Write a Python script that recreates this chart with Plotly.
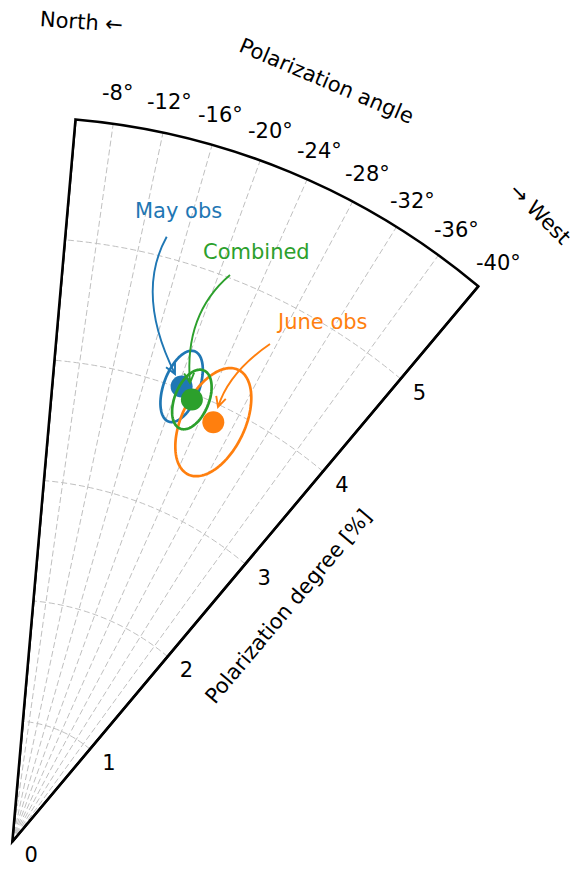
import numpy as np
import plotly.graph_objects as go

# ---------------- data ----------------
labels = ["May obs", "Combined", "June obs"]
colors = ["#1f77b4", "#2ca02c", "#ff7f0e"]
pol_degree = [4.02, 3.95, 3.85]          # %
pol_angle = [-20.4, -22.1, -25.6]        # deg
err_degree = [0.31, 0.26, 0.48]          # radial semi-axis of error ellipse (%)
err_angle = [2.1, 2.05, 3.9]             # tangential semi-axis of error ellipse (deg)

angle_ticks = [-8, -12, -16, -20, -24, -28, -32, -36, -40]
angle_ticktext = [f"{v}°" for v in angle_ticks]
degree_ticks = [0, 1, 2, 3, 4, 5]
theta_min, theta_max = -40, -5
r_max = 6

# window 578x871; the page body adds an 8px margin, so the figure is 570x863
OFF = 8
W, H = 578 - OFF, 871 - OFF
FONT = "DejaVu Sans"
FS = 21
GRID = "rgb(192,192,192)"

# sector geometry in window pixels
ox, oy = 12.3, 841.7          # origin
R_PX = 725.0                  # outer radius in px


def px2paper(x, y):
    return (x - OFF) / W, 1 - (y - OFF) / H


fig = go.Figure()

draw_order = [0, 2, 1]
for i in draw_order:
    # error ellipse (radial / tangential semi-axes) around the measurement
    t = np.linspace(0, 2 * np.pi, 181)
    phi = np.deg2rad(90 + pol_angle[i])
    u = np.array([np.cos(phi), np.sin(phi)])
    v = np.array([-np.sin(phi), np.cos(phi)])
    a = err_degree[i]
    b = pol_degree[i] * np.deg2rad(err_angle[i])
    cx, cy = pol_degree[i] * u
    ex = cx + a * np.cos(t) * u[0] + b * np.sin(t) * v[0]
    ey = cy + a * np.cos(t) * u[1] + b * np.sin(t) * v[1]
    er = np.hypot(ex, ey)
    eth = np.rad2deg(np.arctan2(ey, ex)) - 90
    fig.add_trace(go.Scatterpolar(r=er, theta=eth, mode="lines",
                                  line=dict(color=colors[i], width=2.7),
                                  showlegend=False, hoverinfo="skip"))
    fig.add_trace(go.Scatterpolar(r=[pol_degree[i]], theta=[pol_angle[i]], mode="markers",
                                  marker=dict(color=colors[i], size=22),
                                  name=labels[i], showlegend=False))

# left edge of the sector
fig.add_trace(go.Scatterpolar(r=[0, r_max], theta=[theta_max, theta_max], mode="lines",
                              line=dict(color="black", width=2.5), showlegend=False,
                              hoverinfo="skip"))

# ---------------- curved labelled arrows (pixel layout) ----------------
arrow_layout = [
    dict(text=(178, 211), s=(166.7, 236.7), c=(135, 294), e=(175, 374)),
    dict(text=(256, 252), s=(230, 275), c=(184, 314), e=(190, 383)),
    dict(text=(322, 322), s=(270, 344), c=(229, 372), e=(218, 407)),
]
shapes = []
annotations = []
for i, al in enumerate(arrow_layout):
    sx, sy = al["s"]
    qx, qy = al["c"]
    exx, eyy = al["e"]
    d = np.array([exx - qx, eyy - qy])
    d = d / np.linalg.norm(d)
    n = np.array([-d[1], d[0]])
    hl, hw = 10, 5
    h1 = np.array([exx, eyy]) - hl * d + hw * n
    h2 = np.array([exx, eyy]) - hl * d - hw * n
    pts = [px2paper(sx, sy), px2paper(qx, qy), px2paper(exx, eyy),
           px2paper(*h1), px2paper(*h2)]
    path = (f"M{pts[0][0]},{pts[0][1]} Q{pts[1][0]},{pts[1][1]} {pts[2][0]},{pts[2][1]} "
            f"M{pts[3][0]},{pts[3][1]} L{pts[2][0]},{pts[2][1]} L{pts[4][0]},{pts[4][1]}")
    shapes.append(dict(type="path", xref="paper", yref="paper", path=path,
                       line=dict(color=colors[i], width=1.9)))
    tx, ty = px2paper(*al["text"])
    annotations.append(dict(x=tx, y=ty, xref="paper", yref="paper", text=labels[i],
                            showarrow=False, font=dict(family=FONT, size=FS, color=colors[i]),
                            xanchor="center", yanchor="middle"))

# angular tick labels, centred just outside the outer arc
for val, txt in zip(angle_ticks, angle_ticktext):
    rad = np.deg2rad(val)
    dist = R_PX + 31
    lx = ox - np.sin(rad) * dist
    ly = oy - np.cos(rad) * dist
    tx, ty = px2paper(lx, ly)
    annotations.append(dict(x=tx, y=ty, xref="paper", yref="paper", text=txt,
                            showarrow=False, font=dict(family=FONT, size=FS, color="black"),
                            xanchor="center", yanchor="middle"))

# axis / direction titles
for txt, pos, ang in [
    ("Polarization angle", (326, 81), 23),
    ("Polarization degree [%]", (288, 607), -50),
    ("North ←", (81, 22), 4),
    ("→ West", (540, 214), 45),
]:
    tx, ty = px2paper(*pos)
    annotations.append(dict(x=tx, y=ty, xref="paper", yref="paper", text=txt,
                            showarrow=False, textangle=ang,
                            font=dict(family=FONT, size=FS, color="black"),
                            xanchor="center", yanchor="middle"))

top = oy - R_PX * np.cos(np.deg2rad(theta_max))
right = ox + R_PX * np.sin(np.deg2rad(-theta_min))
x0p, y0p = px2paper(ox, oy)
x1p, y1p = px2paper(right, top)

fig.update_layout(
    width=W, height=H,
    margin=dict(l=0, r=0, t=0, b=0),
    paper_bgcolor="white",
    font=dict(family=FONT, size=FS, color="black"),
    shapes=shapes,
    annotations=annotations,
    polar=dict(
        domain=dict(x=[x0p, x1p], y=[y0p, y1p]),
        sector=[90 + theta_min, 90 + theta_max],
        bgcolor="white",
        angularaxis=dict(
            rotation=90, direction="counterclockwise",
            tickmode="array", tickvals=angle_ticks, ticktext=angle_ticktext,
            showticklabels=False, ticks="",
            showline=True, linecolor="black", linewidth=2.5,
            showgrid=True, gridcolor=GRID, gridwidth=1, griddash="6px,3px",
        ),
        radialaxis=dict(
            range=[0, r_max], tickmode="array", tickvals=degree_ticks,
            angle=90 + theta_min, side="clockwise",
            showline=True, linecolor="black", linewidth=2.5,
            showgrid=True, gridcolor=GRID, gridwidth=1, griddash="6px,3px",
            ticks="", tickfont=dict(family=FONT, size=FS, color="black"),
            tickangle=50,
        ),
    ),
)

fig.write_html("out.html")
